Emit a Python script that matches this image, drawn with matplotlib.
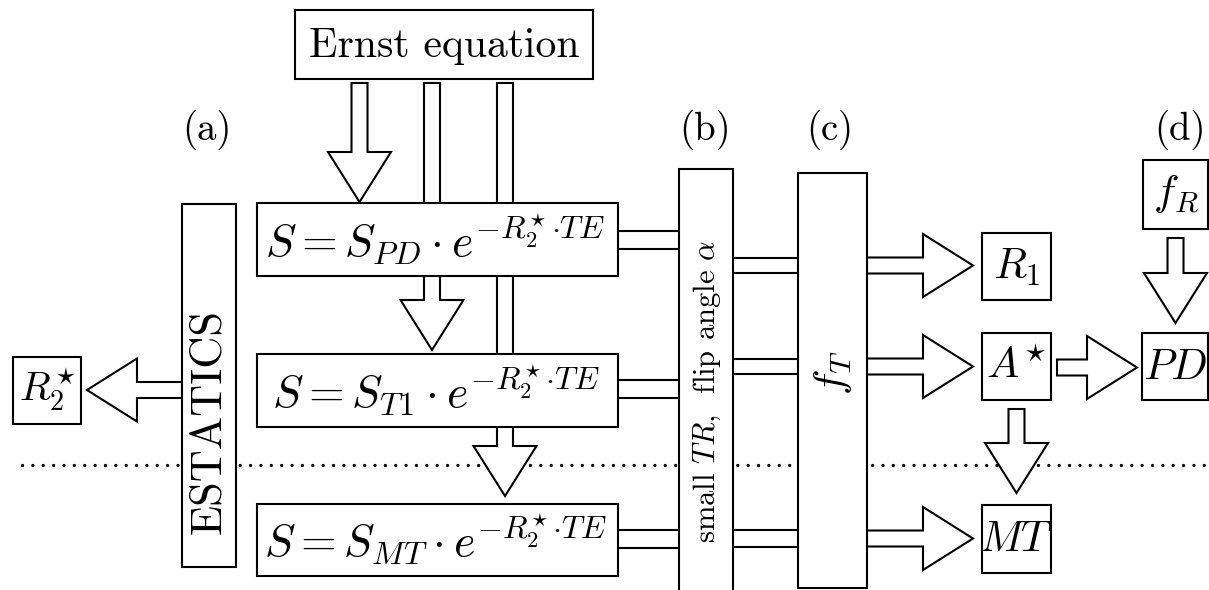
import matplotlib
matplotlib.use("Agg")
import matplotlib.pyplot as plt
from matplotlib.patches import Rectangle, Polygon
import numpy as np

plt.rcParams['mathtext.fontset'] = 'cm'

# labels
top_label = "Ernst equation"
eq_labels = [r"$S = S_{PD} \cdot e^{-R_2^{\!\star}{\cdot}TE}$",
             r"$S = S_{T1} \cdot e^{-R_2^{\!\star}{\cdot}TE}$",
             r"$S = S_{MT} \cdot e^{-R_2^{\!\star}{\cdot}TE}$"]
side_label = "ESTATICS"
mid_label = r"small $TR$,  flip angle $\alpha$"
ft_label = r"$f_T$"
out_labels = [r"$R_1$", r"$A^{\!\star}$", r"$MT$"]
pd_label = r"$PD$"
fr_label = r"$f_R$"
r2_label = r"$R_2^{\!\star}$"
panel_labels = ["(a)", "(b)", "(c)", "(d)"]

# layout (pixels, y down)
eq_rows = [(203, 276), (354, 427), (504, 576)]
eq_x = (257, 618)
out_rows = [(233, 300), (333, 400), (505, 573)]
out_x = (982, 1051)
lines_eq = [(231, 249), (380, 398), (530, 548)]
lines_bc = [(258, 273), (359, 374), (530, 547)]
panel_x = [207, 705, 830, 1180]

fig = plt.figure(figsize=(12.09, 5.9), dpi=100)
ax = fig.add_axes([0, 0, 1, 1])
ax.set_xlim(0, 1209)
ax.set_ylim(590, 0)
ax.axis('off')

LW = 1.5
RM = 'cmr10'


def box(x0, y0, x1, y1):
    ax.add_patch(Rectangle((x0, y0), x1 - x0, y1 - y0, fc='white', ec='black',
                           lw=LW, zorder=3))


def block_arrow(x0, y0, x1, y1, sw=8, hw=31.5, hl=50):
    s = np.array([x0, y0], float)
    e = np.array([x1, y1], float)
    d = (e - s) / np.linalg.norm(e - s)
    n = np.array([-d[1], d[0]])
    b = e - d * hl
    pts = [s + n * sw, b + n * sw, b + n * hw, e, b - n * hw, b - n * sw, s - n * sw]
    ax.add_patch(Polygon(pts, closed=True, fc='white', ec='black', lw=LW,
                         joinstyle='miter', zorder=2))


# dotted separator
ax.plot([22, 1209], [465, 465], color='black', lw=2.4,
        ls=(0, (0.01, 3.1)), dash_capstyle='round', zorder=1)

# top box and arrows
box(295, 10, 593, 79)
ax.text(444, 46, top_label, fontfamily=RM, fontsize=30, ha='center', va='center', zorder=4)
block_arrow(359.5, 83, 359.5, 202)
block_arrow(432, 83, 432, 350)
block_arrow(505, 83, 505, 496)

# equation boxes
for (y0, y1), lab in zip(eq_rows, eq_labels):
    box(eq_x[0], y0, eq_x[1], y1)
    ax.text((eq_x[0] + eq_x[1]) / 2 - 2, (y0 + y1) / 2, lab, fontsize=33,
            ha='center', va='center', zorder=4)

# ESTATICS
box(182, 204, 236, 567)
ax.text(209, 421, side_label, fontfamily=RM, fontsize=32, rotation=90,
        ha='center', va='center', zorder=4)
box(13, 357, 81, 424)
ax.text(47, 390, r2_label, fontsize=29, ha='center', va='center', zorder=4)
block_arrow(182, 390, 87, 390)

# column (b)
box(679, 169, 733, 600)
ax.text(707, 391, mid_label, fontfamily=RM, fontsize=22, rotation=90,
        ha='center', va='center', zorder=4)
for ya, yb in lines_eq:
    ax.plot([eq_x[1], 679], [ya, ya], color='black', lw=LW, zorder=1)
    ax.plot([eq_x[1], 679], [yb, yb], color='black', lw=LW, zorder=1)

# column (c)
box(798, 173, 867, 588)
ax.text(833, 373, ft_label, fontsize=31, rotation=90, ha='center', va='center', zorder=4)
for ya, yb in lines_bc:
    ax.plot([733, 798], [ya, ya], color='black', lw=LW, zorder=1)
    ax.plot([733, 798], [yb, yb], color='black', lw=LW, zorder=1)

# outputs
for (y0, y1), lab, (ya, yb) in zip(out_rows, out_labels, lines_bc):
    block_arrow(867, (ya + yb) / 2, 973, (ya + yb) / 2)
    box(out_x[0], y0, out_x[1], y1)
    ax.text((out_x[0] + out_x[1]) / 2, (y0 + y1) / 2, lab, fontsize=31,
            ha='center', va='center', zorder=4)

block_arrow(1057, 367.5, 1137, 367.5)
block_arrow(1016.5, 409, 1016.5, 493)
box(1142, 333, 1208, 400)
ax.text(1175, 367, pd_label, fontsize=31, ha='center', va='center', zorder=4)
box(1143, 160, 1208, 229)
ax.text(1175.5, 194, fr_label, fontsize=31, ha='center', va='center', zorder=4)
block_arrow(1175.5, 238, 1175.5, 323)

for x, lab in zip(panel_x, panel_labels):
    ax.text(x, 130, lab, fontfamily=RM, fontsize=28, ha='center', va='center')

fig.savefig("out.png", dpi=100)
